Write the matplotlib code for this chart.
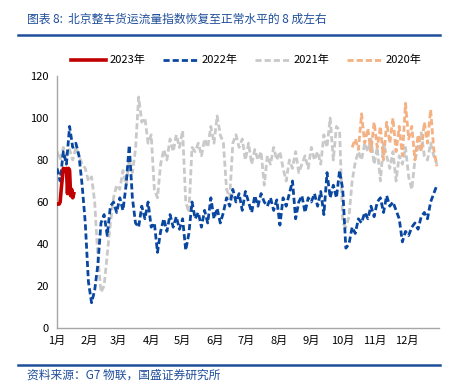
import numpy as np
import matplotlib
matplotlib.use("Agg")
import matplotlib.pyplot as plt
from matplotlib.lines import Line2D

plt.rcParams['font.family'] = ['Noto Sans CJK SC', 'DejaVu Sans']

# ---- data (day-of-year index, sampled every 3 days for 2020-2022, daily for 2023) ----
v2022 = [76, 70, 84, 78, 96, 86, 88, 82, 68, 50, 22, 12, 18, 30, 50, 54, 44, 58, 60, 55,
         62, 56, 68, 87, 62, 50, 48, 58, 52, 60, 48, 50, 36, 46, 52, 46, 54, 48, 53, 47,
         52, 37, 45, 60, 52, 55, 48, 56, 50, 62, 52, 57, 50, 55, 62, 58, 66, 60, 64, 56,
         65, 60, 55, 63, 58, 64, 60, 58, 62, 56, 61, 49, 62, 58, 64, 70, 52, 60, 63, 55,
         62, 60, 64, 58, 65, 54, 74, 62, 68, 62, 75, 66, 38, 40, 48, 45, 52, 50, 55, 52,
         58, 53, 60, 62, 55, 63, 58, 60, 56, 52, 41, 46, 44, 48, 50, 47, 53, 55, 52, 60,
         64, 68]
v2021 = [84, 80, 86, 82, 85, 80, 86, 82, 78, 76, 70, 72, 60, 34, 17, 20, 35, 50, 62, 68,
         66, 75, 68, 80, 74, 85, 110, 98, 100, 88, 92, 66, 62, 78, 85, 80, 90, 84, 92, 86,
         94, 60, 55, 86, 84, 88, 82, 90, 86, 96, 88, 101, 92, 88, 66, 62, 88, 92, 86, 90,
         80, 88, 78, 85, 80, 84, 68, 82, 78, 86, 80, 84, 76, 70, 80, 76, 84, 74, 78, 82,
         76, 86, 80, 84, 78, 92, 86, 100, 80, 96, 94, 50, 48, 53, 70, 79, 84, 80, 88, 84,
         90, 78, 86, 70, 88, 82, 76, 84, 70, 82, 78, 86, 72, 66, 80, 86, 93, 82, 80, 88,
         82, 78]
start2020 = 282
v2020 = [86, 90, 85, 102, 88, 95, 84, 98, 86, 96, 80, 98, 88, 100, 84, 96, 82, 107, 90, 96,
         80, 92, 84, 98, 88, 104, 85, 77]
d2023 = [0, 2, 3, 4, 6, 7, 9, 10, 11, 12, 13, 14, 15, 16]
v2023 = [59, 59, 60, 66, 76, 75, 76, 64, 76, 75, 63, 66, 62, 64]

month_starts = [0, 31, 59, 90, 120, 151, 181, 212, 243, 273, 304, 334]
month_labels = ['1月', '2月', '3月', '4月', '5月', '6月', '7月', '8月', '9月', '10月', '11月', '12月']
yticks = [0, 20, 40, 60, 80, 100, 120]

title = '图表 8:  北京整车货运流量指数恢复至正常水平的 8 成左右'
source = '资料来源：G7 物联，国盛证券研究所'

C23, C22, C21, C20 = '#C00000', '#0A47A0', '#C9C9C9', '#F4B183'
BLUE_T = '#1F4E9A'

fig = plt.figure(figsize=(4.58, 3.84), dpi=100)
ax = fig.add_axes([0.1245, 0.146, 0.834, 0.656])

x22 = np.arange(len(v2022)) * 3
x21 = np.arange(len(v2021)) * 3
x20 = start2020 + np.arange(len(v2020)) * 3

dash = (0, (2.2, 1.1))
ax.plot(x21, v2021, color=C21, lw=2.0, linestyle=dash, zorder=2)
ax.plot(x20, v2020, color=C20, lw=2.0, linestyle=dash, zorder=2)
ax.plot(x22, v2022, color=C22, lw=2.0, linestyle=dash, zorder=3)
ax.plot(d2023, v2023, color=C23, lw=2.6, linestyle='-', zorder=4)

ax.set_xlim(0, 365)
ax.set_ylim(0, 120)
ax.set_yticks(yticks)
ax.set_yticklabels([str(t) for t in yticks], fontsize=8)
ax.set_xticks(month_starts)
ax.set_xticklabels(month_labels, fontsize=8)
ax.tick_params(axis='both', length=0, pad=6)
for s in ['top', 'right']:
    ax.spines[s].set_visible(False)
for s in ['left', 'bottom']:
    ax.spines[s].set_color('#A6A6A6')
    ax.spines[s].set_linewidth(1.0)

handles = [Line2D([], [], color=C23, lw=2.6),
           Line2D([], [], color=C22, lw=2.0, linestyle=dash),
           Line2D([], [], color=C21, lw=2.0, linestyle=dash),
           Line2D([], [], color=C20, lw=2.0, linestyle=dash)]
fig.legend(handles, ['2023年', '2022年', '2021年', '2020年'], loc='center',
           bbox_to_anchor=(0.537, 0.843), ncol=4, frameon=False, fontsize=8,
           handlelength=3.2, handletextpad=0.3, columnspacing=1.55)

fig.text(0.06, 0.95, title, color=BLUE_T, fontsize=8.5, va='center', ha='left')
fig.add_artist(Line2D([0.039, 0.961], [0.909, 0.909], color=BLUE_T, lw=1.8,
                      transform=fig.transFigure))
fig.add_artist(Line2D([0.039, 0.961], [0.049, 0.049], color=BLUE_T, lw=1.8,
                      transform=fig.transFigure))
fig.text(0.06, 0.023, source, color=BLUE_T, fontsize=8.5, va='center', ha='left')

fig.savefig('out.png', dpi=100)
